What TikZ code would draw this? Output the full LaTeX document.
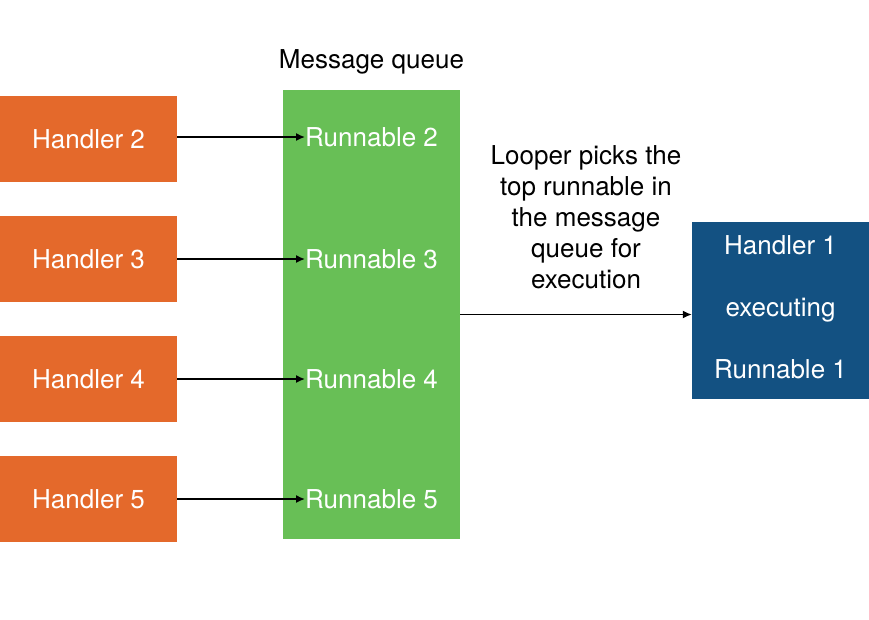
\documentclass[tikz,border=0pt]{standalone}
\usepackage{fontspec}
\setmainfont{TeX Gyre Heros}
\usetikzlibrary{arrows.meta,positioning}
\definecolor{handlerorange}{HTML}{E4692B}
\definecolor{queuegreen}{HTML}{68BF56}
\definecolor{execblue}{HTML}{135182}
\begin{document}
\begin{tikzpicture}[x=1pt,y=-1pt]

    \tikzset{
      handler/.style={
        fill=handlerorange,
        text=white,
        minimum width=177pt,
        minimum height=86pt,
        inner sep=0pt,
        font=\fontsize{26}{30}\selectfont,
      },
      runnable/.style={
        text=white,
        inner sep=0pt,
        anchor=west,
        font=\fontsize{26}{30}\selectfont,
      },
      push/.style={
        line width=1.5pt,
        -{Latex[length=9pt,width=8pt]},
      },
    }
    \useasboundingbox (0,0) rectangle (869,619);
    	\node[fill=queuegreen, minimum width=177pt, minimum height=449pt, inner sep=0pt] (queue) at (371.5,314.5) {};
	\node[above=15pt of queue, inner sep=0pt, font=\fontsize{26}{30}\selectfont] (queuelabel) {Message queue};
	\node[handler] (h2) at (88.5,139) {Handler 2};
	\node[handler] (h3) at (88.5,259) {Handler 3};
	\node[handler] (h4) at (88.5,379) {Handler 4};
	\node[handler] (h5) at (88.5,499) {Handler 5};
	\node[runnable] (r2) at (305,137) {Runnable 2};
	\node[runnable] (r3) at (305,259) {Runnable 3};
	\node[runnable] (r4) at (305,379) {Runnable 4};
	\node[runnable] (r5) at (305,499) {Runnable 5};
	\draw[push] (h2.east |- r2) -- (r2.west);
	\draw[push] (h3.east) -- (r3.west);
	\draw[push] (h4.east) -- (r4.west);
	\draw[push] (h5.east) -- (r5.west);
	\node[fill=execblue, minimum width=177pt, minimum height=177pt, inner sep=0pt] (exec) at (780.5,310.5) {};
	\node[text=white, align=center, inner sep=0pt, font=\fontsize{26}{62}\selectfont] (execlabel) at (780.5,307.5) {Handler 1\\executing\\Runnable 1};
	\node[align=center, inner sep=0pt, font=\fontsize{26}{31}\selectfont] (looper) at (586,217) {Looper picks the\\top runnable in\\the message\\queue for\\execution};
	\draw[push] (queue.east) -- (queue.east -| exec.west);

\end{tikzpicture}
\end{document}
